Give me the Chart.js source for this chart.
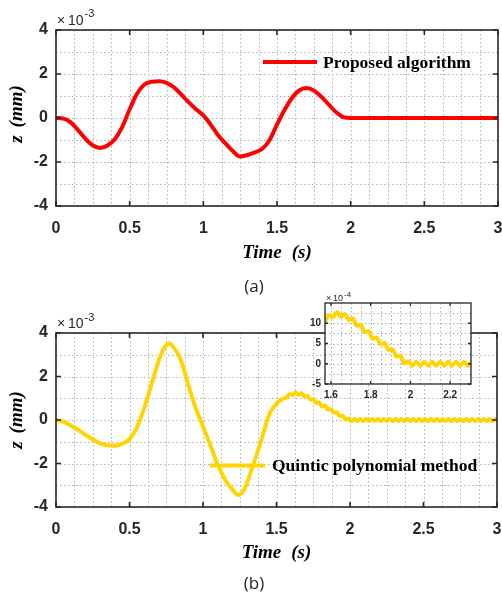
<!DOCTYPE html>
<html><head><meta charset="utf-8">
<script src="https://cdn.jsdelivr.net/npm/chart.js@4.4.1/dist/chart.umd.min.js"></script>
<style>
html,body{margin:0;padding:0;background:#fff;}
#wrap{position:relative;width:502px;height:595px;overflow:hidden;background:#fff;}
canvas{position:absolute;}
.cap{position:absolute;font-family:"Open Sans",sans-serif;font-size:17px;color:#222;transform:translate(-50%,-50%);white-space:nowrap;}
</style></head><body>
<div id="wrap">
<canvas id="ca" width="502" height="300" style="left:0;top:0;width:502px;height:300px"></canvas>
<canvas id="cb" width="502" height="295" style="left:0;top:300px;width:502px;height:295px"></canvas>
<canvas id="ci" width="185" height="120" style="left:300px;top:285px;width:185px;height:120px"></canvas>
<div class="cap" style="left:254px;top:285px">(a)</div>
<div class="cap" style="left:254px;top:582px">(b)</div>
</div>
<script>
// ---------- data ----------
const xTicksMain = [0, 0.5, 1, 1.5, 2, 2.5, 3];
const xTickLabelsMain = ['0', '0.5', '1', '1.5', '2', '2.5', '3'];
const yTicksMain = [-4, -2, 0, 2, 4];
const yTickLabelsMain = ['-4', '-2', '0', '2', '4'];
const xTicksInset = [1.6, 1.8, 2, 2.2];
const xTickLabelsInset = ['1.6', '1.8', '2', '2.2'];
const yTicksInset = [-5, 0, 5, 10];
const yTickLabelsInset = ['-5', '0', '5', '10'];

const seriesA = 'Proposed algorithm';
const seriesB = 'Quintic polynomial method';

// (a) z in units of 1e-3 mm
const timeA = [0,0.05,0.1,0.15,0.2,0.25,0.3,0.35,0.4,0.45,0.5,0.55,0.6,0.65,0.7,0.75,0.8,0.85,0.9,0.95,
  1.0,1.05,1.1,1.15,1.2,1.25,1.3,1.35,1.4,1.45,1.5,1.55,1.6,1.65,1.7,1.75,1.8,1.85,1.9,1.95,
  2.0,2.05,2.1,2.15,2.2,2.25,2.3,2.35,2.4,2.45,2.5,2.55,2.6,2.65,2.7,2.75,2.8,2.85,2.9,2.95,3.0];
const zA = [0,-0.03,-0.2,-0.55,-0.95,-1.25,-1.36,-1.25,-0.95,-0.4,0.4,1.1,1.52,1.65,1.67,1.6,1.4,1.07,0.72,0.4,
  0.12,-0.3,-0.78,-1.15,-1.5,-1.75,-1.68,-1.56,-1.4,-1.0,-0.3,0.35,0.9,1.25,1.36,1.25,0.97,0.62,0.27,0.04,
  0,0,0,0,0,0,0,0,0,0,0,0,0,0,0,0,0,0,0,0,0];

// (b) z in units of 1e-3 mm
const timeB = [0,0.05,0.1,0.15,0.2,0.25,0.3,0.35,0.4,0.45,0.5,0.55,0.6,0.65,0.7,0.74,0.77,0.8,0.85,0.9,
  0.95,1.0,1.05,1.1,1.15,1.2,1.24,1.28,1.32,1.36,1.4,1.43,1.46,1.5,1.53,
  1.57,1.59,1.61,1.63,1.65,1.67,1.69,1.71,1.73,1.75,1.77,1.79,1.81,1.83,1.85,1.87,1.89,1.91,1.93,1.95,1.97,1.99,
  2.01,2.03,2.05,2.07,2.09,2.11,2.13,2.15,2.17,2.19,2.21,2.23,2.25,2.27,2.29,2.31,2.33,2.35,2.37,2.39,
  2.41,2.43,2.45,2.47,2.49,2.51,2.53,2.55,2.57,2.59,2.61,2.63,2.65,2.67,2.69,2.71,2.73,2.75,2.77,2.79,
  2.81,2.83,2.85,2.87,2.89,2.91,2.93,2.95,2.97,2.99,3.01];
const zB = [0,-0.08,-0.25,-0.45,-0.68,-0.9,-1.07,-1.16,-1.18,-1.1,-0.88,-0.35,0.55,1.65,2.75,3.35,3.52,3.35,2.75,1.6,
  0.55,-0.3,-1.15,-2.05,-2.75,-3.2,-3.45,-3.2,-2.5,-1.7,-0.85,-0.15,0.38,0.75,0.93,
  1.05,1.20,1.15,1.27,1.16,1.23,1.08,1.12,0.94,0.96,0.78,0.80,0.62,0.65,0.48,0.51,0.34,0.36,0.18,0.19,0.01,0.06,
  -0.05,0.05,-0.05,0.05,-0.05,0.05,-0.05,0.05,-0.05,0.05,-0.05,0.05,-0.05,0.05,-0.05,0.05,-0.05,0.05,-0.05,0.05,
  -0.05,0.05,-0.05,0.05,-0.05,0.05,-0.05,0.05,-0.05,0.05,-0.05,0.05,-0.05,0.05,-0.05,0.05,-0.05,0.05,-0.05,0.05,
  -0.05,0.05,-0.05,0.05,-0.05,0.05,-0.05,0.05,-0.05,0.05,-0.05];

// inset of (b): z in units of 1e-4 mm
const timeInset = [1.57,1.59,1.61,1.63,1.65,1.67,1.69,1.71,1.73,1.75,1.77,1.79,1.81,1.83,1.85,1.87,1.89,1.91,1.93,1.95,1.97,1.99,
  2.01,2.03,2.05,2.07,2.09,2.11,2.13,2.15,2.17,2.19,2.21,2.23,2.25,2.27,2.29,2.31];
const zInset = [10.3,12.0,11.5,12.7,11.6,12.3,10.8,11.2,9.4,9.6,7.8,8.0,6.2,6.5,4.8,5.1,3.4,3.6,1.8,1.9,0.1,0.6,
  -0.5,0.5,-0.5,0.5,-0.5,0.5,-0.5,0.5,-0.5,0.5,-0.5,0.5,-0.5,0.5,-0.5,0.5];

// ---------- helpers ----------
const RED = '#ff0000';
const GOLD = '#ffd400';
const AXIS = '#262626';
const SANS = '"Liberation Sans", Arial, sans-serif';
const SERIF = '"Liberation Serif", "Times New Roman", serif';

function pts(xs, ys) { return xs.map((x, i) => ({x: x, y: ys[i]})); }

function gridVals(min, max, step) {
  const out = [];
  const k0 = Math.ceil(min / step - 1e-6), k1 = Math.floor(max / step + 1e-6);
  for (let k = k0; k <= k1; k++) out.push(k * step);
  return out;
}

const framePlugin = {
  id: 'frame',
  beforeDraw(chart, args, o) {
    if (!o.bg) return;
    const a = chart.chartArea, ctx = chart.ctx;
    ctx.save(); ctx.fillStyle = '#fff';
    ctx.fillRect(a.left, a.top, a.right - a.left, a.bottom - a.top);
    ctx.restore();
  },
  beforeDatasetsDraw(chart, args, o) {
    const {ctx, chartArea: a, scales: {x, y}} = chart;
    ctx.save();
    ctx.strokeStyle = o.gridColor; ctx.lineWidth = 1; ctx.setLineDash(o.dash);
    gridVals(x.min, x.max, o.xStep).forEach(v => {
      const p = Math.round(x.getPixelForValue(v)) + 0.5;
      if (p <= a.left + 1 || p >= a.right - 1) return;
      ctx.beginPath(); ctx.moveTo(p, a.top); ctx.lineTo(p, a.bottom); ctx.stroke();
    });
    gridVals(y.min, y.max, o.yStep).forEach(v => {
      const p = Math.round(y.getPixelForValue(v)) + 0.5;
      if (p <= a.top + 1 || p >= a.bottom - 1) return;
      ctx.beginPath(); ctx.moveTo(a.left, p); ctx.lineTo(a.right, p); ctx.stroke();
    });
    ctx.restore();
  },
  afterDatasetsDraw(chart, args, o) {
    const {ctx, chartArea: a, scales: {x, y}} = chart;
    ctx.save();
    ctx.strokeStyle = AXIS; ctx.lineWidth = o.boxWidth; ctx.setLineDash([]);
    const tl = o.tickLen;
    o.xTicks.forEach(v => {
      const p = x.getPixelForValue(v);
      ctx.beginPath();
      ctx.moveTo(p, a.bottom); ctx.lineTo(p, a.bottom - tl);
      ctx.moveTo(p, a.top); ctx.lineTo(p, a.top + tl);
      ctx.stroke();
    });
    o.yTicks.forEach(v => {
      const p = y.getPixelForValue(v);
      ctx.beginPath();
      ctx.moveTo(a.left, p); ctx.lineTo(a.left + tl, p);
      ctx.moveTo(a.right, p); ctx.lineTo(a.right - tl, p);
      ctx.stroke();
    });
    ctx.strokeRect(a.left, a.top, a.right - a.left, a.bottom - a.top);
    ctx.restore();
  },
  afterDraw(chart, args, o) {
    const {ctx, chartArea: a} = chart;
    ctx.save();
    ctx.fillStyle = AXIS;
    if (o.exp) {
      const e = o.exp;
      ctx.textBaseline = 'alphabetic'; ctx.textAlign = 'left';
      ctx.font = e.size + 'px ' + SANS;
      ctx.fillText('\u00d7', e.x, e.base);
      ctx.fillText('10', e.x + e.gap, e.base);
      const w10 = ctx.measureText('10').width;
      ctx.font = e.supSize + 'px ' + SANS;
      ctx.fillText(e.pow, e.x + e.gap + w10 + 1, e.base - e.supRise);
    }
    if (o.titles) {
      const t = o.titles;
      ctx.fillStyle = '#000';
      ctx.font = 'italic bold 19px ' + SERIF;
      ctx.textBaseline = 'alphabetic'; ctx.textAlign = 'left';
      const w1 = ctx.measureText('Time').width, w2 = ctx.measureText('(s)').width;
      const cx = (a.left + a.right) / 2;
      const sx = cx - (w1 + 10 + w2) / 2;
      ctx.fillText('Time', sx, t.xBase);
      ctx.fillText('(s)', sx + w1 + 10, t.xBase);
      ctx.save();
      ctx.translate(t.yX, t.yCY);
      ctx.rotate(-Math.PI / 2);
      const v1 = ctx.measureText('z').width, v2 = ctx.measureText('(mm)').width;
      const sy = -(v1 + 8 + v2) / 2;
      ctx.textBaseline = 'middle';
      ctx.fillText('z', sy, 0);
      ctx.fillText('(mm)', sy + v1 + 8, 0);
      ctx.restore();
    }
    if (o.legend) {
      const L = o.legend, ds = chart.data.datasets[0];
      ctx.strokeStyle = ds.borderColor; ctx.lineWidth = 4; ctx.lineCap = 'butt';
      ctx.beginPath(); ctx.moveTo(L.x1, L.y); ctx.lineTo(L.x2, L.y); ctx.stroke();
      ctx.fillStyle = '#000';
      ctx.font = 'bold 17.5px ' + SERIF;
      ctx.textBaseline = 'middle'; ctx.textAlign = 'left';
      ctx.fillText(ds.label, L.tx, L.y + 1);
    }
    ctx.restore();
  }
};

function makeChart(id, cfg) {
  return new Chart(document.getElementById(id), {
    type: 'line',
    data: {datasets: [{
      label: cfg.label, data: pts(cfg.xs, cfg.ys), borderColor: cfg.color, backgroundColor: cfg.color,
      borderWidth: cfg.lw, pointRadius: 0, cubicInterpolationMode: 'monotone', fill: false,
      borderCapStyle: 'round', borderJoinStyle: 'round'
    }]},
    options: {
      responsive: false, animation: false, devicePixelRatio: 1,
      layout: {padding: cfg.pad},
      plugins: {legend: {display: false}, tooltip: {enabled: false}, frame: cfg.frame},
      scales: {
        x: {
          type: 'linear', min: cfg.xMin, max: cfg.xMax,
          grid: {display: false, drawTicks: false}, border: {display: false},
          afterBuildTicks: s => { s.ticks = cfg.xTicks.map(v => ({value: v})); },
          afterFit: s => { s.height = cfg.xH; s.paddingLeft = 0; s.paddingRight = 0; },
          ticks: {autoSkip: false, maxRotation: 0, minRotation: 0, padding: cfg.xPad, color: AXIS,
            font: {family: SANS, size: cfg.fs, weight: 'bold'},
            callback: (v, i) => cfg.xLabels[i]}
        },
        y: {
          type: 'linear', min: cfg.yMin, max: cfg.yMax,
          grid: {display: false, drawTicks: false}, border: {display: false},
          afterBuildTicks: s => { s.ticks = cfg.yTicks.map(v => ({value: v})); },
          afterFit: s => { s.width = cfg.yW; s.paddingTop = 0; s.paddingBottom = 0; },
          ticks: {autoSkip: false, padding: cfg.yPad, color: AXIS,
            font: {family: SANS, size: cfg.fs, weight: 'bold'},
            callback: (v, i) => cfg.yLabels[i]}
        }
      }
    },
    plugins: [framePlugin]
  });
}

Chart.defaults.font.family = SANS;

makeChart('ca', {
  label: seriesA, xs: timeA, ys: zA, color: RED, lw: 4,
  pad: {top: 30, right: 4, bottom: 54, left: 0},
  xMin: 0, xMax: 3, yMin: -4, yMax: 4, xH: 40, yW: 56, xPad: 13, yPad: 8, fs: 16,
  xTicks: xTicksMain, xLabels: xTickLabelsMain, yTicks: yTicksMain, yLabels: yTickLabelsMain,
  frame: {gridColor: '#b0b0b0', dash: [1.5, 2.5], xStep: 0.125, yStep: 1, boxWidth: 1.6, tickLen: 5,
    xTicks: xTicksMain, yTicks: yTicksMain,
    exp: {x: 57, gap: 11, base: 24.5, size: 14, supSize: 11, supRise: 7.5, pow: '-3'},
    titles: {xBase: 258, yX: 17, yCY: 114},
    legend: {x1: 263, x2: 317, y: 62, tx: 323}}
});

makeChart('cb', {
  label: seriesB, xs: timeB, ys: zB, color: GOLD, lw: 4,
  pad: {top: 33, right: 5, bottom: 48, left: 0},
  xMin: 0, xMax: 3, yMin: -4, yMax: 4, xH: 40, yW: 56, xPad: 13, yPad: 8, fs: 16,
  xTicks: xTicksMain, xLabels: xTickLabelsMain, yTicks: yTicksMain, yLabels: yTickLabelsMain,
  frame: {gridColor: '#b0b0b0', dash: [1.5, 2.5], xStep: 0.125, yStep: 1, boxWidth: 1.6, tickLen: 5,
    xTicks: xTicksMain, yTicks: yTicksMain,
    exp: {x: 57, gap: 11, base: 28, size: 14, supSize: 11, supRise: 7.5, pow: '-3'},
    titles: {xBase: 257.5, yX: 17, yCY: 120},
    legend: {x1: 210, x2: 265, y: 165.5, tx: 272}}
});

makeChart('ci', {
  label: seriesB, xs: timeInset, ys: zInset, color: GOLD, lw: 4,
  pad: {top: 18, right: 14, bottom: 1, left: 0},
  xMin: 1.57, xMax: 2.305, yMin: -5, yMax: 15, xH: 20, yW: 25, xPad: 5, yPad: 4, fs: 10,
  xTicks: xTicksInset, xLabels: xTickLabelsInset, yTicks: yTicksInset, yLabels: yTickLabelsInset,
  frame: {bg: true, gridColor: '#b0b0b0', dash: [1.5, 2.5], xStep: 0.05, yStep: 2.5, boxWidth: 1.3, tickLen: 3,
    xTicks: xTicksInset, yTicks: yTicksInset,
    exp: {x: 26, gap: 7, base: 16, size: 9, supSize: 8, supRise: 4.5, pow: '-4'}}
});
</script>
</body></html>
